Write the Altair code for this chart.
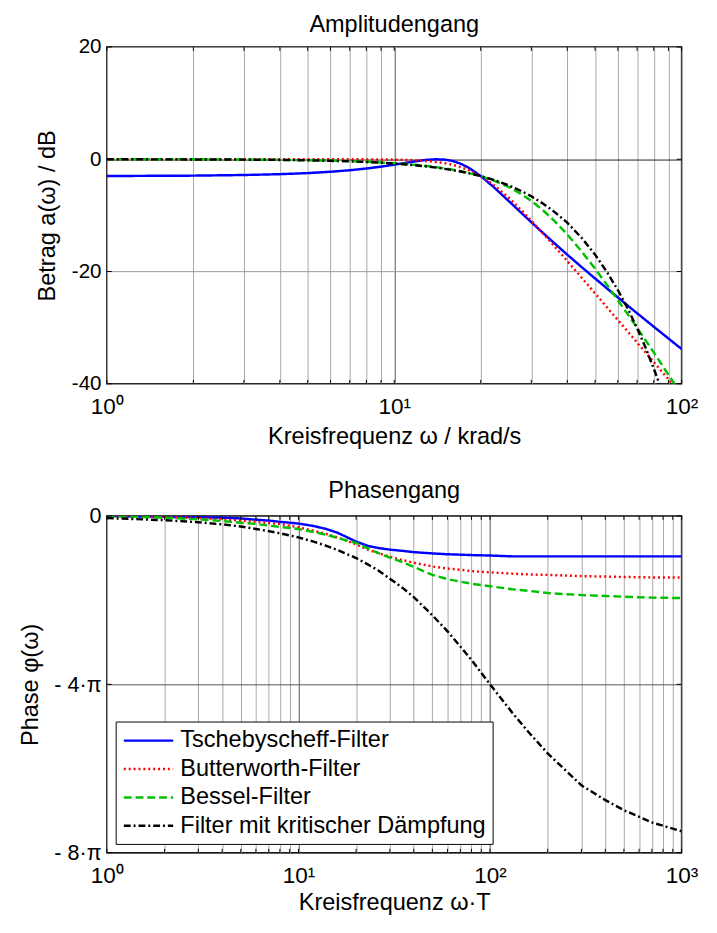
import altair as alt
import pandas as pd

FONT = "Liberation Sans"

names = ["Tschebyscheff-Filter", "Butterworth-Filter", "Bessel-Filter",
         "Filter mit kritischer Dämpfung"]
colors = ["#0000ff", "#ff0000", "#00c000", "#000000"]
dashes = [[1, 0], [2, 3], [8, 4], [7, 3, 2, 3]]

# ---- Amplitudengang (omega in krad/s, a in dB) ----
w_amp = [1, 2, 3, 4, 5, 6, 7, 8, 9, 10, 11, 12, 13, 14, 15, 16, 17, 18, 19, 20,
         22, 25, 28, 30, 33, 36, 40, 45, 50, 55, 60, 65, 70, 75, 80, 85, 90, 95, 100]
a_tsch = [-2.99, -2.92, -2.81, -2.66, -2.47, -2.23, -1.96, -1.65, -1.32, -0.97,
          -0.63, -0.33, -0.10, 0.0, -0.07, -0.33, -0.78, -1.41, -2.17, -3.01,
          -4.79, -7.42, -9.79, -11.22, -13.17, -14.92, -16.99, -19.26, -21.24,
          -23.02, -24.62, -26.09, -27.43, -28.67, -29.83, -30.92, -31.93, -32.9, -33.8]
a_butt = [0, 0, 0, 0, 0, 0, -0.01, -0.02, -0.04, -0.07, -0.12, -0.2, -0.32, -0.48,
          -0.71, -1.01, -1.39, -1.85, -2.39, -3.01, -4.43, -6.82, -9.31, -10.93,
          -13.26, -15.44, -18.13, -21.16, -23.9, -26.39, -28.63, -30.71, -32.65,
          -34.44, -36.12, -37.72, -39.19, -40.6, -41.94]
a_bess = [0, -0.01, -0.06, -0.11, -0.17, -0.25, -0.34, -0.45, -0.57, -0.71, -0.86,
          -1.03, -1.21, -1.41, -1.63, -1.86, -2.12, -2.4, -2.69, -3.01, -3.71,
          -4.94, -6.37, -7.42, -9.13, -10.93, -13.4, -16.5, -19.5, -22.38, -25.1,
          -27.64, -30.0, -32.3, -34.4, -36.45, -38.4, -40.2, -41.9]
a_krit = [-0.01, -0.03, -0.07, -0.12, -0.19, -0.28, -0.38, -0.49, -0.62, -0.77,
          -0.92, -1.10, -1.29, -1.49, -1.71, -1.94, -2.19, -2.45, -2.73, -3.0,
          -3.62, -4.65, -5.79, -6.6, -7.93, -9.33, -11.3, -14.07, -17.0, -20.1,
          -23.3, -26.6, -30.1, -33.6, -37.3, -40.9, -44.5, -48.1, -51.6]

# ---- Phasengang (omega*T, phase in multiples of pi) ----
w_ph = [1, 2, 3, 4, 5, 6, 7, 8, 10, 12, 14, 16, 18, 20, 23, 26, 30, 35, 40, 50,
        60, 70, 80, 100, 130, 160, 200, 300, 400, 500, 700, 1000]
p_tsch = [0.0, -0.02, -0.03, -0.04, -0.06, -0.09, -0.11, -0.14, -0.18, -0.24,
          -0.31, -0.40, -0.51, -0.61, -0.71, -0.76, -0.80, -0.83, -0.86, -0.89,
          -0.91, -0.92, -0.93, -0.94, -0.96, -0.96, -0.96, -0.96, -0.96, -0.96,
          -0.96, -0.96]
p_butt = [0.0, -0.02, -0.05, -0.08, -0.11, -0.14, -0.17, -0.19, -0.27, -0.35,
          -0.43, -0.51, -0.59, -0.68, -0.80, -0.88, -0.97, -1.05, -1.11, -1.20,
          -1.25, -1.28, -1.31, -1.34, -1.37, -1.39, -1.40, -1.43, -1.44, -1.45,
          -1.46, -1.46]
p_bess = [0.0, -0.04, -0.08, -0.12, -0.16, -0.19, -0.23, -0.26, -0.31, -0.38,
          -0.45, -0.52, -0.59, -0.64, -0.77, -0.88, -0.99, -1.10, -1.21, -1.40,
          -1.50, -1.56, -1.61, -1.67, -1.74, -1.78, -1.83, -1.88, -1.90, -1.92,
          -1.94, -1.95]
p_krit = [-0.05, -0.10, -0.15, -0.20, -0.25, -0.31, -0.36, -0.41, -0.51, -0.61,
          -0.71, -0.81, -0.91, -1.00, -1.15, -1.29, -1.49, -1.71, -1.93, -2.36,
          -2.74, -3.10, -3.42, -4.00, -4.66, -5.15, -5.64, -6.40, -6.75, -6.99,
          -7.28, -7.49]

x_top_ticks = [1, 2, 3, 4, 5, 6, 7, 8, 9, 10, 20, 30, 40, 50, 60, 70, 80, 90, 100]
x_bot_ticks = [1, 2, 3, 4, 5, 6, 7, 8, 9, 10, 20, 30, 40, 50, 60, 70, 80, 90,
               100, 200, 300, 400, 500, 600, 700, 800, 900, 1000]
y_top_ticks = [20, 0, -20, -40]
y_bot_ticks = [0, -4, -8]

W, H = 587, 344
TICK = 4

amp_rows = []
for k, (n, vals) in enumerate(zip(names, [a_tsch, a_butt, a_bess, a_krit])):
    for w, v in zip(w_amp, vals):
        amp_rows.append({"w": w, "a": v, "filter": n, "k": k})
amp_df = pd.DataFrame(amp_rows)

ph_rows = []
for k, (n, vals) in enumerate(zip(names, [p_tsch, p_butt, p_bess, p_krit])):
    for w, v in zip(w_ph, vals):
        ph_rows.append({"w": w, "p": v, "filter": n, "k": k})
ph_df = pd.DataFrame(ph_rows)

minor_grid = "#a8a8a8"
major_grid = "#555555"

color_scale = alt.Scale(domain=names, range=colors)
dash_scale = alt.Scale(domain=names, range=dashes)

xs_top = alt.Scale(type="log", domain=[1, 100], nice=False)
ys_top = alt.Scale(domain=[-40, 20], nice=False)
xs_bot = alt.Scale(type="log", domain=[1, 1000], nice=False)
ys_bot = alt.Scale(domain=[-8, 0], nice=False)

legend = alt.Legend(
    orient="bottom-left", offset=9, title=None,
    symbolType="M-2.1,0H2.1", symbolSize=576, symbolStrokeWidth=2.5,
    symbolOffset=14, labelOffset=19,
    labelFontSize=24, labelFont=FONT,
    labelColor="black", strokeColor="black", fillColor="white", padding=6,
    rowPadding=3, labelLimit=500,
)


def inner_ticks(xvals, yvals, xscale, yscale, yfield):
    xdf = pd.DataFrame({"w": xvals})
    ydf = pd.DataFrame({yfield: yvals})
    t1 = alt.Chart(xdf).mark_rule(color="black", strokeWidth=1).encode(
        x=alt.X("w:Q", scale=xscale), y=alt.value(0), y2=alt.value(TICK))
    t2 = alt.Chart(xdf).mark_rule(color="black", strokeWidth=1).encode(
        x=alt.X("w:Q", scale=xscale), y=alt.value(H), y2=alt.value(H - TICK))
    t3 = alt.Chart(ydf).mark_rule(color="black", strokeWidth=1).encode(
        y=alt.Y(f"{yfield}:Q", scale=yscale), x=alt.value(0), x2=alt.value(TICK + 1))
    t4 = alt.Chart(ydf).mark_rule(color="black", strokeWidth=1).encode(
        y=alt.Y(f"{yfield}:Q", scale=yscale), x=alt.value(W), x2=alt.value(W - TICK - 1))
    return [t1, t2, t3, t4]


top_lines = alt.Chart(amp_df).mark_line(clip=True, strokeWidth=2.5).encode(
    x=alt.X("w:Q", scale=xs_top,
            axis=alt.Axis(values=x_top_ticks, grid=True,
                          gridColor={"condition": {"test": "datum.value === 10", "value": major_grid},
                                     "value": minor_grid},
                          labelExpr="datum.value === 1 ? '10⁰' : datum.value === 10 ? '10¹' : datum.value === 100 ? '10²' : ''",
                          labelOverlap=False, labelFlush=False, labelFontSize=23,
                          labelPadding=12, title="Kreisfrequenz ω / krad/s",
                          titleFontSize=24, titlePadding=7)),
    y=alt.Y("a:Q", scale=ys_top,
            axis=alt.Axis(values=y_top_ticks, grid=True,
                          gridColor={"condition": {"test": "datum.value === 0", "value": "#222222"},
                                     "value": "#999999"},
                          labelExpr="datum.value < 0 ? '-' + abs(datum.value) : '' + datum.value",
                          labelFontSize=21, labelPadding=6,
                          title="Betrag a(ω) / dB", titleFontSize=24, titlePadding=12)),
    color=alt.Color("filter:N", scale=color_scale, legend=None),
    strokeDash=alt.StrokeDash("filter:N", scale=dash_scale, legend=None),
    order=alt.Order("k:Q"),
)

top = alt.layer(top_lines, *inner_ticks(x_top_ticks, y_top_ticks, xs_top, ys_top, "a")).properties(
    width=W, height=H,
    title=alt.TitleParams("Amplitudengang", fontSize=24, fontWeight="normal",
                          font=FONT, offset=-1, anchor="middle"),
)

bot_lines = alt.Chart(ph_df).mark_line(clip=True, strokeWidth=2.5).encode(
    x=alt.X("w:Q", scale=xs_bot,
            axis=alt.Axis(values=x_bot_ticks, grid=True,
                          gridColor={"condition": {"test": "datum.value === 10 || datum.value === 100", "value": major_grid},
                                     "value": minor_grid},
                          labelExpr="datum.value === 1 ? '10⁰' : datum.value === 10 ? '10¹' : datum.value === 100 ? '10²' : datum.value === 1000 ? '10³' : ''",
                          labelOverlap=False, labelFlush=False, labelFontSize=23,
                          labelPadding=12, title="Kreisfrequenz ω·T",
                          titleFontSize=24, titlePadding=4)),
    y=alt.Y("p:Q", scale=ys_bot,
            axis=alt.Axis(values=y_bot_ticks, grid=True,
                          gridColor="#555555",
                          labelExpr="datum.value === 0 ? '0' : '- ' + abs(datum.value) + '·π'",
                          labelFontSize=22, labelPadding=6,
                          title="Phase  φ(ω)", titleFontSize=24, titlePadding=12)),
    color=alt.Color("filter:N", scale=color_scale, legend=legend),
    strokeDash=alt.StrokeDash("filter:N", scale=dash_scale, legend=legend),
    order=alt.Order("k:Q"),
)

bottom = alt.layer(bot_lines, *inner_ticks(x_bot_ticks, y_bot_ticks, xs_bot, ys_bot, "p")).properties(
    width=W, height=H,
    title=alt.TitleParams("Phasengang", fontSize=24, fontWeight="normal",
                          font=FONT, offset=2, anchor="middle"),
)

chart = alt.vconcat(top, bottom, spacing=30).resolve_legend(
    color="independent", strokeDash="independent"
).properties(
    padding={"left": 10, "top": -5, "right": 10, "bottom": 0},
).configure_view(
    stroke="black", strokeWidth=1.5
).configure_axis(
    labelFont=FONT, titleFont=FONT, labelColor="black", titleColor="black",
    titleFontWeight="normal", ticks=False, domain=False, gridWidth=1,
)

chart.save("out.html", embed_options={"renderer": "svg", "actions": False})
